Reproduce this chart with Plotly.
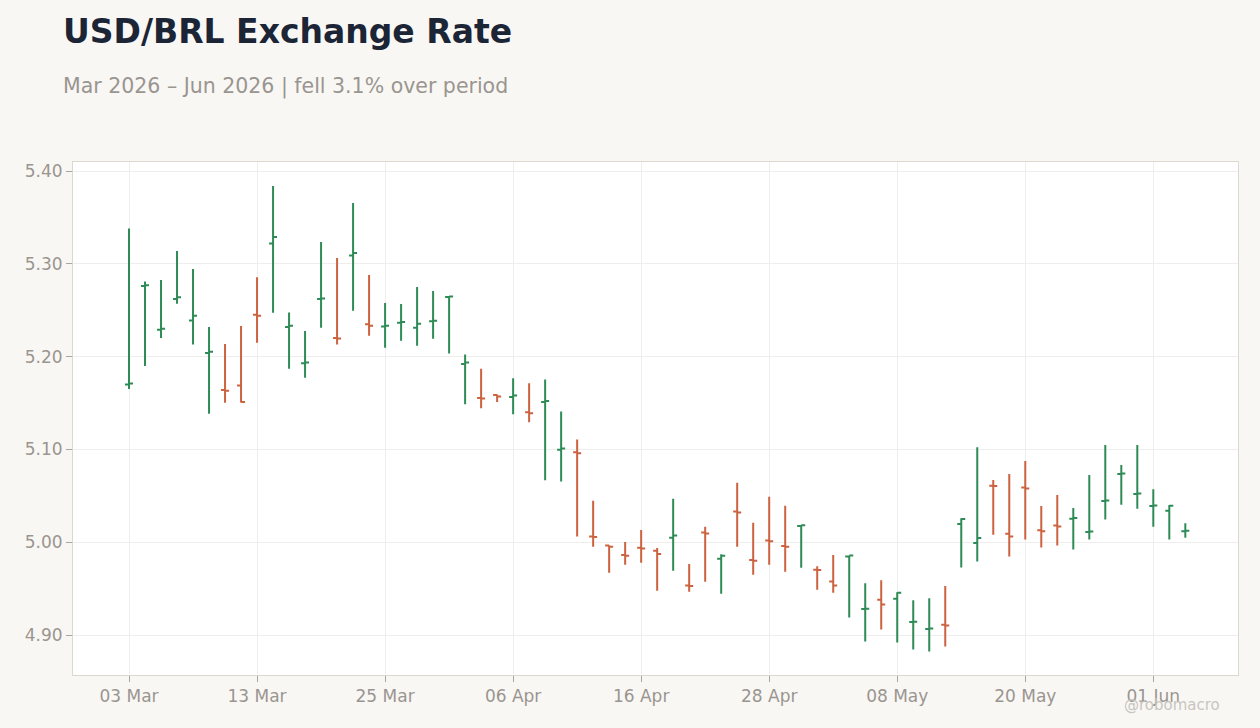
import pandas as pd
import plotly.graph_objects as go

# business days, 03 Mar 2026 - 03 Jun 2026
dates = pd.bdate_range("2026-03-03", "2026-06-03")

opens = [5.170, 5.276, 5.229, 5.262, 5.239, 5.204, 5.164, 5.169, 5.245, 5.322,
         5.232, 5.193, 5.262, 5.220, 5.309, 5.235, 5.2326, 5.2365, 5.231, 5.238,
         5.2642, 5.192, 5.1555, 5.1586, 5.1564, 5.1402, 5.151, 5.0998, 5.097, 5.0061,
         4.9964, 4.9863, 4.9942, 4.991, 5.005, 4.9535, 5.0105, 4.9823, 5.0332, 4.9809,
         5.0018, 4.996, 5.0176, 4.9705, 4.9578, 4.9846, 4.928, 4.938, 4.9391, 4.914,
         4.9065, 4.9111, 5.0197, 4.9993, 5.061, 5.0093, 5.059, 5.013, 5.018, 5.0254,
         5.011, 5.0445, 5.0735, 5.052, 5.039, 5.034, 5.012]
highs = [5.338, 5.281, 5.2825, 5.3138, 5.2944, 5.2318, 5.2135, 5.2329, 5.2854, 5.3838,
         5.2476, 5.2275, 5.3235, 5.3062, 5.3655, 5.2879, 5.2577, 5.2566, 5.275, 5.2706,
         5.265, 5.2022, 5.187, 5.1593, 5.1766, 5.1712, 5.1755, 5.1409, 5.1106, 5.0447,
         4.9968, 5.0004, 5.0133, 4.9939, 5.0468, 4.9766, 5.0166, 4.987, 5.0641, 5.0209,
         5.049, 5.0393, 5.0185, 4.9743, 4.9864, 4.9857, 4.9559, 4.9591, 4.9462, 4.9376,
         4.9398, 4.953, 5.0258, 5.1025, 5.067, 5.0735, 5.0875, 5.0391, 5.0509, 5.0369,
         5.0724, 5.1047, 5.0832, 5.1047, 5.057, 5.0401, 5.0204]
lows = [5.165, 5.190, 5.220, 5.257, 5.2131, 5.1384, 5.1503, 5.1505, 5.215, 5.2473,
        5.1869, 5.1772, 5.2311, 5.2131, 5.2494, 5.2225, 5.2096, 5.2171, 5.2117, 5.2193,
        5.2034, 5.1488, 5.1445, 5.151, 5.138, 5.1294, 5.0667, 5.0656, 5.0061, 4.9953,
        4.9672, 4.9759, 4.978, 4.9477, 4.9694, 4.9467, 4.9575, 4.9445, 4.9953, 4.965,
        4.9759, 4.9683, 4.9726, 4.9488, 4.9457, 4.919, 4.8932, 4.9061, 4.8921, 4.8846,
        4.8824, 4.8878, 4.9728, 4.9792, 5.0082, 4.9846, 5.0029, 4.9943, 4.9964, 4.9921,
        5.0029, 5.0244, 5.0405, 5.0362, 5.0168, 5.0029, 5.005]
closes = [5.171, 5.277, 5.230, 5.264, 5.2441, 5.2053, 5.1632, 5.151, 5.2441, 5.3289,
          5.2333, 5.1937, 5.2627, 5.2196, 5.3116, 5.2333, 5.2333, 5.2372, 5.2354, 5.2387,
          5.2648, 5.1938, 5.155, 5.1571, 5.1582, 5.1391, 5.1521, 5.1009, 5.096, 5.0058,
          4.9953, 4.9856, 4.9932, 4.9874, 5.0072, 4.953, 5.0094, 4.9856, 5.0321, 4.9802,
          5.0011, 4.9953, 5.0183, 4.970, 4.9534, 4.9857, 4.9285, 4.933, 4.9455, 4.9145,
          4.907, 4.9104, 5.0251, 5.0047, 5.0605, 5.0061, 5.058, 5.012, 5.017, 5.0262,
          5.0115, 5.045, 5.074, 5.0525, 5.0395, 5.0394, 5.0125]

tick_dates = ["2026-03-03", "2026-03-13", "2026-03-25", "2026-04-06", "2026-04-16",
              "2026-04-28", "2026-05-08", "2026-05-20", "2026-06-01"]
y_ticks = [4.90, 5.00, 5.10, 5.20, 5.30, 5.40]

GREEN = "#2e8b57"
RED = "#cc623f"
GREY = "#999590"
FONT = "DejaVu Sans"

fig = go.Figure(go.Ohlc(
    x=dates, open=opens, high=highs, low=lows, close=closes,
    increasing=dict(line=dict(color=GREEN, width=2)),
    decreasing=dict(line=dict(color=RED, width=2)),
    tickwidth=0.25,
    showlegend=False,
))

fig.update_layout(
    width=1260, height=728,
    paper_bgcolor="#f9f7f4",
    plot_bgcolor="#ffffff",
    margin=dict(l=73, r=22, t=162, b=53),
    font=dict(family=FONT, color=GREY, size=17),
    title=dict(
        text="<b>USD/BRL Exchange Rate</b>",
        x=0.05, xanchor="left", y=1 - 31 / 728, yanchor="middle",
        font=dict(family=FONT, size=33, color="#1b2535"),
    ),
    annotations=[
        dict(text="Mar 2026 – Jun 2026 | fell 3.1% over period",
             xref="paper", yref="paper", x=-12 / 1165, y=1.0 + 76 / 513,
             xanchor="left", yanchor="middle", showarrow=False,
             font=dict(family=FONT, size=20.5, color=GREY)),
        dict(text="@robomacro", xref="paper", yref="paper",
             x=1.0 - 16 / 1165, y=-30 / 513, xanchor="right", yanchor="middle",
             showarrow=False, font=dict(family=FONT, size=15, color="#c8c5c0")),
    ],
    xaxis=dict(
        rangeslider=dict(visible=False),
        rangebreaks=[dict(bounds=["sat", "mon"])],
        range=["2026-02-25 12:00", "2026-06-08 07:00"],
        tickvals=tick_dates, tickformat="%d %b",
        ticks="outside", ticklen=6, tickcolor="#aaa6a0",
        showgrid=True, gridcolor="#f0eeec",
        showline=True, linecolor="#dcd7cf", mirror=True,
        zeroline=False,
    ),
    yaxis=dict(
        range=[4.857, 5.4097],
        tickvals=y_ticks, tickformat=".2f",
        ticks="outside", ticklen=6, tickcolor="#aaa6a0",
        showgrid=True, gridcolor="#f0eeec",
        showline=True, linecolor="#dcd7cf", mirror=True,
        zeroline=False,
    ),
)

fig.write_html("out.html", config={"displayModeBar": False},
               post_script="document.body.style.margin='0';")
